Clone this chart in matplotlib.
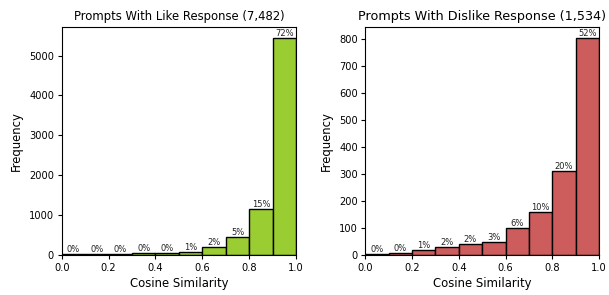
import matplotlib
matplotlib.use("Agg")
import matplotlib.pyplot as plt
import numpy as np

bin_edges = [0.0, 0.1, 0.2, 0.3, 0.4, 0.5, 0.6, 0.7, 0.8, 0.9, 1.0]
like_counts = [10, 15, 20, 35, 50, 75, 200, 440, 1140, 5440]
like_pct = ["0%", "0%", "0%", "0%", "0%", "1%", "2%", "5%", "15%", "72%"]
dislike_counts = [3, 6, 17, 30, 40, 48, 98, 158, 310, 805]
dislike_pct = ["0%", "0%", "1%", "2%", "2%", "3%", "6%", "10%", "20%", "52%"]
like_title = "Prompts With Like Response (7,482)"
dislike_title = "Prompts With Dislike Response (1,534)"

fig = plt.figure(figsize=(6.09, 2.95), dpi=100)
ax1 = fig.add_axes([0.1013, 0.136, 0.385, 0.772])
ax2 = fig.add_axes([0.6, 0.136, 0.3835, 0.772])

def draw(ax, counts, pcts, color, title, tsize):
    edges = np.array(bin_edges)
    lefts = edges[:-1]
    widths = np.diff(edges)
    bars = ax.bar(lefts, counts, width=widths, align="edge", color=color,
                  edgecolor="black", linewidth=1.0)
    for b, p in zip(bars, pcts):
        ax.text(b.get_x() + b.get_width() / 2, b.get_height(), p,
                ha="center", va="bottom", fontsize=6, color="#222222")
    ax.set_xlim(0, 1)
    ax.set_ylim(0, max(counts) * 1.05)
    ax.set_title(title, fontsize=tsize, pad=5)
    ax.set_xlabel("Cosine Similarity", fontsize=8.4, labelpad=3)
    ax.set_ylabel("Frequency", fontsize=8.4, labelpad=4.5)
    ax.tick_params(labelsize=7.1, length=3, width=0.8, pad=2.5)
    ax.set_xticks([0.0, 0.2, 0.4, 0.6, 0.8, 1.0])
    for s in ax.spines.values():
        s.set_linewidth(0.8)

draw(ax1, like_counts, like_pct, "#9ACD32", like_title, 8.4)
draw(ax2, dislike_counts, dislike_pct, "#CD5C5C", dislike_title, 9.2)

fig.savefig("out.png", dpi=100)
